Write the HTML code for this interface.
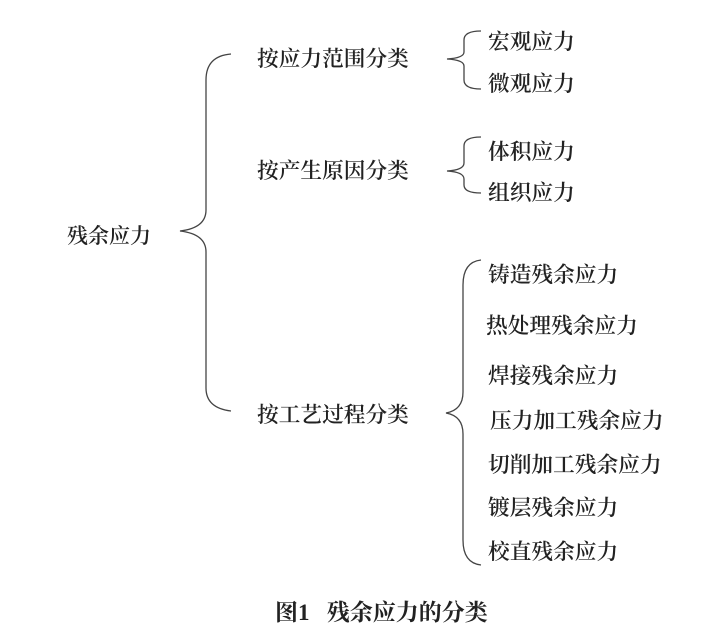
<!DOCTYPE html>
<html><head><meta charset="utf-8"><style>
body{margin:0;width:712px;height:641px;background:#fff;position:relative;overflow:hidden;font-family:"Liberation Serif","Noto Serif CJK SC",serif;color:#222}
.t{position:absolute;font-size:21.7px;line-height:22px;white-space:nowrap;font-weight:600}
svg{position:absolute;left:0;top:0}
</style></head><body>
<svg width="712" height="641" fill="none" stroke="#444" stroke-width="1.3">
<path d="M231,54 Q206,56 206,80 L206,210 Q206,228 180,231 Q206,234 206,252 L206,388 Q206,408 231,411"/>
<path d="M481,31 Q464,31 464,40 L464,52 Q464,58 447,59 Q464,60 464,66 L464,80 Q464,89 481,89"/>
<path d="M481,137 Q464,137 464,146 L464,163 Q464,170 447,171 Q464,172 464,179 L464,185 Q464,193 481,193"/>
<path d="M481,260 Q463,262 463,285 L463,392 Q463,410 446,413 Q463,416 463,434 L463,540 Q463,563 481,565"/>
</svg>
<div class="t" style="left:67px;top:225px;font-size:21px">残余应力</div>
<div class="t" style="left:257px;top:48px">按应力范围分类</div>
<div class="t" style="left:257px;top:160px">按产生原因分类</div>
<div class="t" style="left:257px;top:404px">按工艺过程分类</div>
<div class="t" style="left:488px;top:31px">宏观应力</div>
<div class="t" style="left:488px;top:73px">微观应力</div>
<div class="t" style="left:488px;top:141px">体积应力</div>
<div class="t" style="left:488px;top:182px">组织应力</div>
<div class="t" style="left:488px;top:264px">铸造残余应力</div>
<div class="t" style="left:486px;top:315px">热处理残余应力</div>
<div class="t" style="left:488px;top:365px">焊接残余应力</div>
<div class="t" style="left:490px;top:410px">压力加工残余应力</div>
<div class="t" style="left:488px;top:454px">切削加工残余应力</div>
<div class="t" style="left:488px;top:497px">镀层残余应力</div>
<div class="t" style="left:488px;top:541px">校直残余应力</div>
<div class="t" style="left:275px;top:602px;font-size:23px;font-weight:bold;line-height:22px">图1&nbsp;&nbsp;&nbsp;残余应力的分类</div>
</body></html>
